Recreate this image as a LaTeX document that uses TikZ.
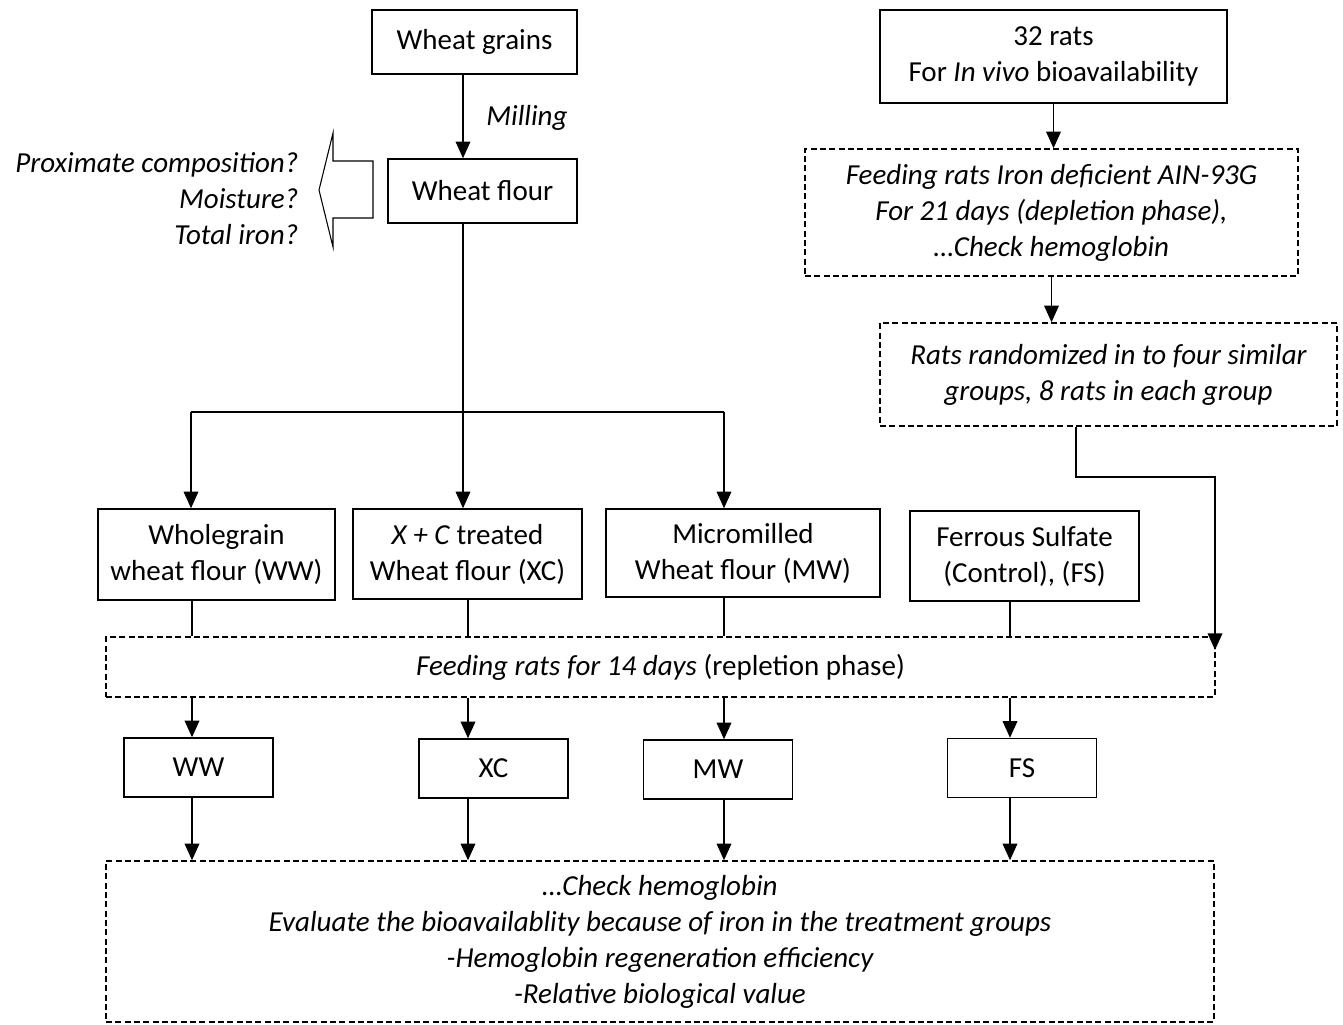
\documentclass[tikz,border=0pt]{standalone}
\usepackage{fontspec}
\setmainfont{Carlito}
\usetikzlibrary{positioning, arrows.meta}
\tikzset{
    stage/.style={
        rectangle, draw, align=center, inner sep=0pt
    },
    trial/.style={
        stage, dash pattern={on 4.5pt off 2.5pt}, font=\itshape
    },
    small/.style={
        stage, minimum width=111.75pt, minimum height=44.25pt
    },
    ar/.style={
        -{Triangle[length=12.5pt, width=11pt]}
    },
    note/.style={
        font=\itshape, align=right, inner sep=0pt
    }
}

\begin{document}
\fontsize{21.75pt}{27pt}\selectfont
\begin{tikzpicture}[x=0.75pt, y=-0.75pt, line width=1.1pt]
        \useasboundingbox (0,0) rectangle (1343,1025);
        %\draw[help lines, step=50] (0,0) grid (1343,1025);

        % flour side
        \node[stage, minimum width=153.75pt, minimum height=48pt] (grains) at (474.5,42) {Wheat grains};
        \node[stage, minimum width=141.75pt, minimum height=48pt] (flour) at (482.5,191) {Wheat flour};
        \node[note] (milling) at (527,118) {Milling};
        \node[note, anchor=east] (tests) at (299,199) {Proximate composition?\\Moisture?\\Total iron?};

        \node[stage, minimum width=177.75pt, minimum height=68.25pt] (ww) at (216.5,554.5) {Wholegrain\\wheat flour (WW)};
        \node[stage, minimum width=171.75pt, minimum height=67.5pt] (xc) at (467.5,554) {\textit{X + C} treated\\Wheat flour (XC)};
        \node[stage, minimum width=205.5pt, minimum height=66pt] (mw) at (743,553) {Micromilled\\Wheat flour (MW)};
        \node[stage, minimum width=171.75pt, minimum height=67.5pt] (fs) at (1024.5,556) {Ferrous Sulfate\\(Control), (FS)};

        % rat side
        \node[stage, minimum width=260.25pt, minimum height=69.75pt] (rats) at (1053.5,56.5) {32 rats\\For \textit{In vivo} bioavailability};
        \node[trial, minimum width=369.75pt, minimum height=95.25pt] (deplete) at (1051.5,212.5) {Feeding rats Iron deficient AIN-93G\\For 21 days (depletion phase),\\\dots Check hemoglobin};
        \node[trial, minimum width=342.75pt, minimum height=77.25pt] (groups) at (1108.5,374.5) {Rats randomized in to four similar\\groups, 8 rats in each group};

        \node[trial, minimum width=831.75pt, minimum height=45pt] (feed) at (660.5,667) {Feeding rats for 14 days \textup{(repletion phase)}};

        \node[small] (sww) at (198.5,767.5) {WW};
        \node[small] (sxc) at (493.5,768.5) {XC};
        \node[small] (smw) at (718,769.5) {MW};
        \node[small] (sfs) at (1022,768) {FS};

        \node[trial, minimum width=831pt, minimum height=120.75pt] (final) at (660,941.5) {\dots Check hemoglobin\\Evaluate the bioavailablity because of iron in the treatment groups\\-Hemoglobin regeneration efficiency\\-Relative biological value};

        % hollow arrow to the tests
        \draw[line width=0.8pt] (319,190) -- (333,133) -- (333,161) -- (373,161) -- (373,218) -- (333,218) -- (333,247) -- cycle;

        \coordinate (trunk) at (463,412);
        \coordinate (left) at (191,412);
        \coordinate (right) at (724,412);
        \coordinate (bend) at (1076,477);
        \coordinate (entry) at (1215,650);

        \path (grains.south -| trunk) edge[ar] (flour.north -| trunk)
                (flour.south -| trunk) edge (trunk)
                (trunk) edge[ar] (xc.north -| trunk)
                (left) edge (right)
                (left) edge[ar] (ww.north -| left)
                (right) edge[ar] (mw.north -| right)
                (rats.south) edge[ar] (rats.south |- deplete.north)
                (deplete.south) edge[ar] (deplete.south |- groups.north);

        \draw[ar] (groups.south -| bend) -- (bend) -| (entry);

        \foreach \n/\c in {ww/192, xc/468, mw/724, fs/1010}{
            \draw (\n.south -| \c,0) -- (feed.north -| \c,0);
            \draw[ar] (feed.south -| \c,0) -- (s\n.north -| \c,0);
            \draw[ar] (s\n.south -| \c,0) -- (final.north -| \c,0);
        }
\end{tikzpicture}
\end{document}
